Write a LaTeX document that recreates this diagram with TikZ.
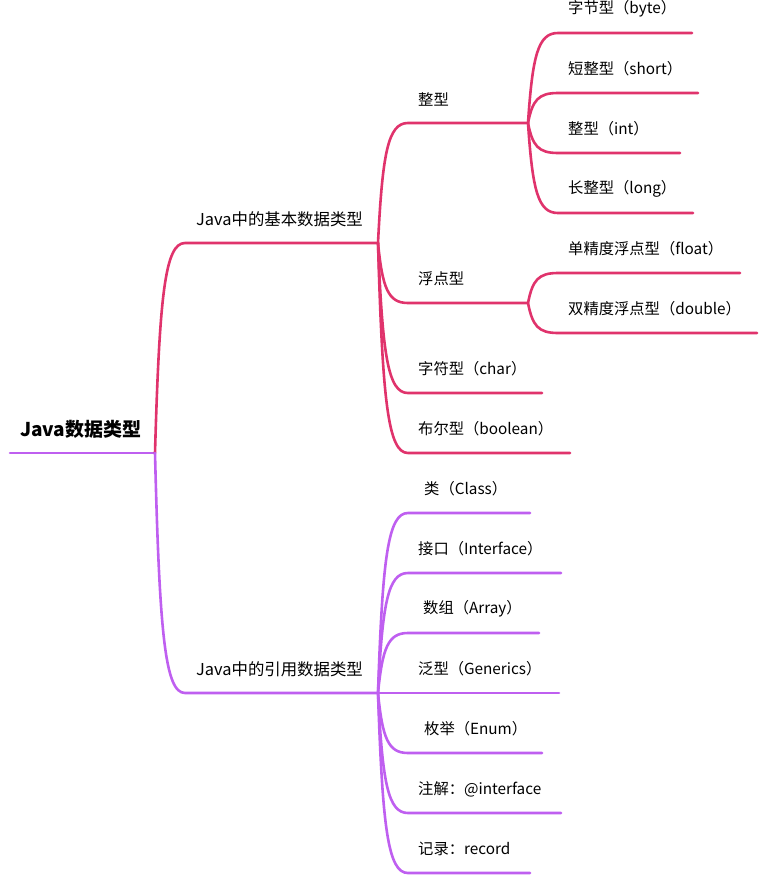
\documentclass[tikz,border=0pt]{standalone}
\usepackage{fontspec}
\setmainfont{Noto Sans CJK SC}
\usetikzlibrary{calc}
\definecolor{pinkc}{HTML}{E0336C}
\definecolor{purplec}{HTML}{BF5FF0}
\tikzset{
  conn/.style={line width=2.6pt,line cap=round},
  pinkline/.style={conn,draw=pinkc},
  purpleline/.style={conn,draw=purplec},
  leaf/.style={anchor=west,inner sep=0pt,font=\fontsize{15.3}{17}\selectfont},
  lvone/.style={anchor=west,inner sep=0pt,font=\fontsize{16.4}{19}\selectfont},
  rootlbl/.style={anchor=west,inner sep=0pt,font=\fontsize{19}{22}\selectfont\bfseries}
}
\newcommand\mmbranch[4]{\draw[#1] (#2) .. controls ($(#2)!0.75!(#3)-(18,0)$) and ($(#3)-(20,0)$) .. (#3) -- (#4);}
\begin{document}
\begin{tikzpicture}[x=1pt,y=-1pt]
\useasboundingbox (0,0) rectangle (765,879);
% coordinates
\coordinate (R0) at (10,453);
\coordinate (R) at (155,453);
\coordinate (B1) at (185,243); \coordinate (B1e) at (378,243);
\coordinate (B2) at (185,693); \coordinate (B2e) at (378,693);
\coordinate (I) at (408,123); \coordinate (Ie) at (528,123);
\coordinate (F) at (408,303); \coordinate (Fe) at (528,303);
\coordinate (C) at (408,393); \coordinate (Ce) at (542,393);
\coordinate (Bo) at (408,453); \coordinate (Boe) at (570,453);
\coordinate (L1) at (558,33); \coordinate (L1e) at (692,33);
\coordinate (L2) at (558,93); \coordinate (L2e) at (698,93);
\coordinate (L3) at (558,153); \coordinate (L3e) at (680,153);
\coordinate (L4) at (558,213); \coordinate (L4e) at (693,213);
\coordinate (D1) at (558,273); \coordinate (D1e) at (740,273);
\coordinate (D2) at (558,333); \coordinate (D2e) at (757,333);
\coordinate (P1) at (408,513); \coordinate (P1e) at (530,513);
\coordinate (P2) at (408,573); \coordinate (P2e) at (561,573);
\coordinate (P3) at (408,633); \coordinate (P3e) at (539,633);
\coordinate (P4e) at (559,693);
\coordinate (P5) at (408,753); \coordinate (P5e) at (542,753);
\coordinate (P6) at (408,813); \coordinate (P6e) at (561,813);
\coordinate (P7) at (408,873); \coordinate (P7e) at (530,873);
% connectors
\draw[purpleline] (R0) -- (R);
\mmbranch{pinkline}{R}{B1}{B1e}
\mmbranch{purpleline}{R}{B2}{B2e}
\mmbranch{pinkline}{B1e}{I}{Ie}
\mmbranch{pinkline}{B1e}{F}{Fe}
\mmbranch{pinkline}{B1e}{C}{Ce}
\mmbranch{pinkline}{B1e}{Bo}{Boe}
\mmbranch{pinkline}{Ie}{L1}{L1e}
\mmbranch{pinkline}{Ie}{L2}{L2e}
\mmbranch{pinkline}{Ie}{L3}{L3e}
\mmbranch{pinkline}{Ie}{L4}{L4e}
\mmbranch{pinkline}{Fe}{D1}{D1e}
\mmbranch{pinkline}{Fe}{D2}{D2e}
\mmbranch{purpleline}{B2e}{P1}{P1e}
\mmbranch{purpleline}{B2e}{P2}{P2e}
\mmbranch{purpleline}{B2e}{P3}{P3e}
\draw[purpleline] (B2e) -- (P4e);
\mmbranch{purpleline}{B2e}{P5}{P5e}
\mmbranch{purpleline}{B2e}{P6}{P6e}
\mmbranch{purpleline}{B2e}{P7}{P7e}
% labels
\node[rootlbl] (troot) at (20,429) {Java数据类型};
\node[lvone] (tb1) at (196,219) {Java中的基本数据类型};
\node[lvone] (tb2) at (196,669) {Java中的引用数据类型};
\node[leaf] (tint) at (418,99) {整型};
\node[leaf] (tflt) at (418,279) {浮点型};
\node[leaf] (tchr) at (418,369) {字符型（char）};
\node[leaf] (tbool) at (418,429) {布尔型（boolean）};
\node[leaf] (tl1) at (568,9) {字节型（byte）};
\node[leaf] (tl2) at (568,69) {短整型（short）};
\node[leaf] (tl3) at (568,129) {整型（int）};
\node[leaf] (tl4) at (568,189) {长整型（long）};
\node[leaf] (td1) at (568,249) {单精度浮点型（float）};
\node[leaf] (td2) at (568,309) {双精度浮点型（double）};
\node[leaf] (tp1) at (424,489) {类（Class）};
\node[leaf] (tp2) at (418,549) {接口（Interface）};
\node[leaf] (tp3) at (423,609) {数组（Array）};
\node[leaf] (tp4) at (418,669) {泛型（Generics）};
\node[leaf] (tp5) at (424,729) {枚举（Enum）};
\node[leaf] (tp6) at (418,789) {注解：@interface};
\node[leaf] (tp7) at (418,849) {记录：record};
\end{tikzpicture}
\end{document}
